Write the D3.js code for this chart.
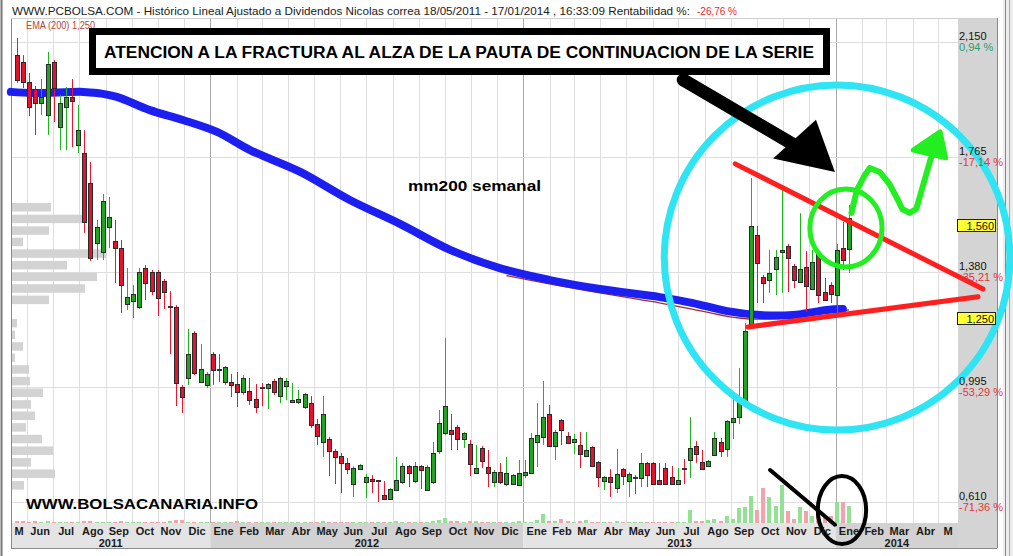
<!DOCTYPE html>
<html><head><meta charset="utf-8">
<script src="https://cdn.jsdelivr.net/npm/d3@7"></script>
<style>body{margin:0;background:#fff;} svg{display:block;font-family:Arial,"Liberation Sans",sans-serif;}</style>
</head><body><svg id="c" width="1013" height="556"></svg>
<script>
// ---------- DATA ----------
const opens = [2.106,2.083,2.016,1.993,1.946,1.906,2.083,1.865,1.932,1.966,
1.805,1.778,1.678,1.477,1.447,1.531,1.484,1.460,1.273,1.283,
1.263,1.393,1.380,1.380,1.350,1.263,1.263,0.995,1.025,1.176,
1.012,1.002,1.105,1.052,1.012,1.012,1.005,0.978,0.982,0.955,
0.992,0.992,1.015,0.965,0.998,0.945,0.945,0.928,0.941,0.871,
0.811,0.821,0.781,0.764,0.741,0.670,0.720,0.677,0.687,0.680,
0.633,0.620,0.650,0.677,0.730,0.680,0.730,0.650,0.677,0.781,
0.841,0.851,0.861,0.821,0.804,0.707,0.791,0.727,0.677,0.710,
0.670,0.670,0.667,0.700,0.707,0.811,0.828,0.905,0.797,0.884,
0.831,0.811,0.801,0.764,0.794,0.744,0.680,0.694,0.657,0.720,
0.680,0.690,0.690,0.741,0.741,0.684,0.724,0.694,0.670,0.720,
0.751,0.797,0.744,0.730,0.767,0.811,0.787,0.878,0.894,0.945,
1.206,1.504,1.363,1.353,1.390,1.447,1.467,1.400,1.346,1.397,
1.323,1.440,1.313,1.336,1.303,1.460,1.457];
const highs = [2.163,2.106,2.046,2.003,2.026,2.117,2.090,1.973,1.999,2.026,
1.939,1.855,1.748,1.554,1.641,1.631,1.554,1.487,1.393,1.336,
1.393,1.403,1.387,1.387,1.357,1.316,1.269,1.002,1.189,1.182,
1.139,1.045,1.112,1.105,1.065,1.039,1.045,1.035,1.025,1.005,
1.008,1.008,1.022,1.029,1.025,1.008,0.985,0.975,0.965,0.888,
0.965,0.828,0.787,0.774,0.757,0.730,0.737,0.704,0.700,0.684,
0.680,0.657,0.761,0.741,0.734,0.744,0.734,0.734,0.811,0.918,
1.159,0.905,0.868,0.844,0.818,0.801,0.797,0.784,0.717,0.741,
0.761,0.704,0.751,0.751,0.841,0.941,1.015,0.935,0.851,0.888,
0.844,0.838,0.844,0.844,0.797,0.747,0.697,0.720,0.787,0.724,
0.710,0.700,0.774,0.744,0.744,0.741,0.741,0.730,0.724,0.754,
0.894,0.814,0.784,0.751,0.844,0.824,0.884,0.955,1.059,1.209,
1.695,1.534,1.370,1.454,1.454,1.654,1.474,1.407,1.577,1.450,
1.454,1.447,1.360,1.346,1.474,1.547,1.604];
const lows = [2.013,1.996,1.902,1.839,1.906,1.839,1.882,1.788,1.788,1.798,
1.778,1.511,1.417,1.420,1.420,1.460,1.343,1.243,1.253,1.226,
1.256,1.286,1.303,1.233,1.256,1.105,0.931,0.908,1.002,1.035,
1.008,0.992,1.002,1.012,1.002,0.961,0.928,0.968,0.935,0.908,
0.931,0.921,0.968,0.941,0.951,0.941,0.938,0.921,0.858,0.801,
0.761,0.697,0.670,0.640,0.704,0.627,0.717,0.623,0.640,0.610,
0.617,0.617,0.647,0.670,0.660,0.673,0.653,0.647,0.670,0.771,
0.834,0.784,0.784,0.791,0.697,0.704,0.724,0.660,0.660,0.670,
0.663,0.667,0.663,0.690,0.704,0.727,0.801,0.794,0.751,0.801,
0.804,0.771,0.724,0.761,0.727,0.660,0.650,0.627,0.640,0.667,
0.627,0.637,0.660,0.660,0.667,0.667,0.667,0.667,0.667,0.670,
0.690,0.741,0.717,0.727,0.764,0.761,0.761,0.821,0.871,0.938,
1.199,1.276,1.276,1.310,1.303,1.310,1.313,1.326,1.343,1.246,
1.320,1.276,1.283,1.276,1.229,1.387,1.377];
const closes = [2.023,2.016,1.932,1.946,1.966,2.076,1.996,1.946,1.966,1.952,
1.855,1.547,1.427,1.531,1.618,1.564,1.460,1.336,1.296,1.306,
1.380,1.343,1.316,1.293,1.313,1.263,1.008,0.961,1.105,1.042,
1.055,1.039,1.052,1.052,1.062,1.002,0.978,1.025,0.951,0.928,
0.992,1.005,0.978,1.025,1.015,0.951,0.955,0.972,0.868,0.831,
0.905,0.781,0.761,0.741,0.720,0.724,0.734,0.694,0.680,0.680,
0.620,0.653,0.684,0.730,0.707,0.730,0.717,0.727,0.774,0.874,
0.931,0.838,0.821,0.841,0.737,0.724,0.747,0.707,0.710,0.677,
0.707,0.700,0.707,0.710,0.824,0.834,0.894,0.797,0.844,0.851,
0.807,0.821,0.771,0.784,0.730,0.694,0.694,0.677,0.704,0.697,
0.704,0.690,0.741,0.700,0.670,0.670,0.670,0.670,0.684,0.720,
0.791,0.771,0.720,0.747,0.824,0.781,0.881,0.891,0.951,1.182,
1.534,1.410,1.343,1.377,1.430,1.454,1.427,1.353,1.390,1.333,
1.413,1.303,1.286,1.306,1.454,1.420,1.561];
const volumes = [2,2,1,2,1,2,1,1,1,1, 1,2,2,1,1,1,1,2,1,1, 1,1,1,1,1,2,3,3,1,1,
1,1,1,1,1,1,2,1,1,1, 1,1,1,1,1,1,1,1,1,1, 2,1,1,1,1,1,1,1,1,1,
1,1,2,1,1,1,1,1,2,3, 5,2,2,1,2,2,1,1,1,1, 1,1,2,1,1,3,9,2,2,4,
2,1,2,3,1,1,1,1,2,1, 1,1,1,1,1,1,1,1,1,1, 13,2,2,3,4,2,7,4,15,16,
27,13,35,26,17,38,12,4,16,12, 7,10,8,7,21,21,17];
// EMA(200) thin line, read at a few bars
const emaIdx = [80,84,89,95,102,105,112,118,121,126,131,136];
const emaVal = [1.368,1.352,1.333,1.311,1.287,1.277,1.249,1.226,1.222,1.226,1.240,1.253];
// left volume-by-price profile
const profTop = [1.611,1.572,1.533,1.495,1.456,1.417,1.378,1.339,1.301,1.262,1.223,1.184,1.145,1.107,1.068,1.029,0.990,0.951,0.913,0.874,0.835,0.796,0.757,0.719,0.680];
const profVol = [39,72,37,11,94,55,85,73,37,0,5,3,11,3,17,18,31,19,23,14,30,41,19,43,12];
// price axis
const tickVals = [2.150,1.765,1.380,0.995,0.610];
const tickLabels = ["2,150","1,765","1,380","0,995","0,610"];
const tickPct = ["0,94 %","-17,14 %","-35,21 %","-53,29 %","-71,36 %"];
const markVals = [1.560,1.250];
const markLabels = ["1,560","1,250"];
const monthNames = ["Ene","Feb","Mar","Abr","May","Jun","Jul","Ago","Sep","Oct","Nov","Dic"];
// hand-drawn annotations (bar index, price)
const blueIdx = [-1,2.6,10.8,13.1,16.3,21.7,27.1,32.7,38.1,46.3,54.4,62.6,70.8,78.9,87.1,95.3,105.1,110.5,116.1,121.4,126.8,132.4,135];
const bluePx  = [1.983,1.979,1.983,1.979,1.966,1.922,1.889,1.849,1.788,1.715,1.621,1.541,1.454,1.393,1.353,1.323,1.296,1.276,1.249,1.236,1.236,1.253,1.256];
const upperLine = [[117.4,1.742],[157.9,1.323]];
const lowerLine = [[119.5,1.196],[157.1,1.297]];
const cyanBox = [[105.8,2.006],[162.3,0.851]];
const greenBox = [[129.6,1.658],[141.4,1.397]];
const blackBox = [[130.9,0.697],[138.8,0.469]];
const blackStroke = [[123.1,0.717],[133.7,0.534]];
const arrowShaft = [[108.9,2.023],[127.5,1.800]];
const arrowHead = [[123.6,1.760],[133.7,1.715],[130.6,1.890]];
const squiggle = [[136.4,1.578],[137.3,1.655],[138.6,1.705],[139.4,1.728],[141.0,1.715],[142.6,1.675],[143.9,1.625],[144.7,1.591],[145.9,1.578],[147.0,1.591],[147.7,1.641],[148.5,1.698],[149.3,1.755],[150.0,1.795],[150.5,1.826]];
const squiggleHead = [[146.5,1.788],[150.9,1.849],[151.8,1.762]];

// ---------- LAYOUT ----------
const svg = d3.select("#c");
const L=11, R=958, T=18, B=523, AXB=548, PR=997;
const n = opens.length;
const x = d3.scaleLinear().domain([0,n-1]).range([17,849]);
const xt = d3.scaleTime().domain([new Date(2011,4,13), new Date(2014,4,24)]).range([L,R]);
const y = d3.scaleLinear().domain([0.610,2.150]).range([502,42]);
const yv = d3.scaleLinear().domain([0,40]).range([B,B-40]);
const xp = d3.scaleLinear().domain([0,100]).range([L,L+100]);

svg.append("rect").attr("width",1013).attr("height",556).attr("fill","#fff");
// outer frame
svg.append("line").attr("x1",1.5).attr("x2",1.5).attr("y1",0).attr("y2",556).attr("stroke","#777").attr("stroke-width",2);
svg.append("rect").attr("x",1003).attr("y",0).attr("width",10).attr("height",556).attr("fill","#ececec");
svg.append("line").attr("x1",1005.5).attr("x2",1005.5).attr("y1",0).attr("y2",556).attr("stroke","#888");
svg.append("line").attr("x1",1009.5).attr("x2",1009.5).attr("y1",0).attr("y2",556).attr("stroke","#aaa");

// axis band with alternating years
const t0 = xt.domain()[0], t1 = xt.domain()[1];
const years = d3.timeYear.range(d3.timeYear.floor(t0), t1);
years.forEach((yr,k)=>{
  const a = Math.max(xt(yr),L), b = Math.min(xt(d3.timeYear.offset(yr,1)),R);
  svg.append("rect").attr("x",a).attr("y",B).attr("width",b-a).attr("height",AXB-B)
     .attr("fill", k%2===0 ? "#e4e4e4" : "#d2d2d2");
});
// right axis panel
svg.append("rect").attr("x",R).attr("y",T).attr("width",PR-R).attr("height",AXB-T).attr("fill","#d4d4d4");

// gridlines
const months = d3.timeMonth.range(d3.timeMonth.ceil(t0), t1);
svg.append("g").selectAll("line").data(months).join("line")
  .attr("x1",d=>Math.round(xt(d))+0.5).attr("x2",d=>Math.round(xt(d))+0.5)
  .attr("y1",T).attr("y2",B)
  .attr("stroke",d=>d.getMonth()===0?"#a9a9a9":"#dedede").attr("stroke-width",1);
svg.append("g").selectAll("line").data(tickVals).join("line")
  .attr("x1",L).attr("x2",R).attr("y1",d=>Math.round(y(d))+0.5).attr("y2",d=>Math.round(y(d))+0.5)
  .attr("stroke","#dedede");

// frame lines
svg.append("line").attr("x1",L+0.5).attr("x2",L+0.5).attr("y1",T).attr("y2",AXB).attr("stroke","#8a8a8a");
svg.append("line").attr("x1",L).attr("x2",PR).attr("y1",AXB+0.5).attr("y2",AXB+0.5).attr("stroke","#8a8a8a");
svg.append("line").attr("x1",PR+0.5).attr("x2",PR+0.5).attr("y1",T).attr("y2",AXB).attr("stroke","#8a8a8a");
svg.append("line").attr("x1",L).attr("x2",PR).attr("y1",T+0.5).attr("y2",T+0.5).attr("stroke","#cfcfcf");

// volume profile
const bandH = 0.0285;
svg.append("g").selectAll("rect").data(profTop).join("rect")
  .attr("x",L+1).attr("y",d=>y(d)).attr("height",d=>y(d-bandH)-y(d))
  .attr("width",(d,i)=>Math.max(0,xp(profVol[i])-L)).attr("fill","#d3d3d3");

// volume bars
const up = i => closes[i] >= opens[i];
svg.append("g").selectAll("rect").data(volumes).join("rect")
  .attr("x",(d,i)=>Math.round(x(i))-2).attr("width",4)
  .attr("y",d=>yv(d)).attr("height",d=>B-yv(d))
  .attr("fill",(d,i)=>up(i)?"#93e293":"#f4a3ad");

// EMA thin line
svg.append("path").datum(emaIdx.map((d,i)=>[d,emaVal[i]]))
  .attr("d",d3.line().x(d=>x(d[0])).y(d=>y(d[1])).curve(d3.curveMonotoneX))
  .attr("fill","none").attr("stroke","#a52a2a").attr("stroke-width",1.3);

// blue hand-drawn EMA
svg.append("path").datum(blueIdx.map((d,i)=>[d,bluePx[i]]))
  .attr("d",d3.line().x(d=>x(d[0])).y(d=>y(d[1])).curve(d3.curveCatmullRom))
  .attr("fill","none").attr("stroke","#1c1ff0").attr("stroke-width",8).attr("stroke-linecap","round");

// candles
const cg = svg.append("g");
d3.range(n).forEach(i=>{
  const cx = Math.round(x(i));
  const o=opens[i], c=closes[i];
  const doji = Math.abs(o-c) < 0.001;
  const col = doji ? "#e8192f" : (c>o ? "#1fb31f" : "#e8192f");
  cg.append("line").attr("x1",cx+0.5).attr("x2",cx+0.5).attr("y1",y(highs[i])).attr("y2",y(lows[i]))
    .attr("stroke",col).attr("stroke-width",1);
  if (doji) {
    cg.append("rect").attr("x",cx-2).attr("y",Math.round(y(o))-1).attr("width",5).attr("height",2).attr("fill","#333");
  } else {
    const yt = Math.round(y(Math.max(o,c))), yb = Math.round(y(Math.min(o,c)));
    cg.append("rect").attr("x",cx-1.5).attr("y",yt+0.5).attr("width",4).attr("height",Math.max(1,yb-yt))
      .attr("fill", c>o ? "#1fa51f" : "#e4122c").attr("stroke","#2a2a2a").attr("stroke-width",1);
  }
});

// ---------- ANNOTATIONS ----------
const P = d => [x(d[0]), y(d[1])];
function ell(box, color, w){
  const a=P(box[0]), b=P(box[1]);
  svg.append("ellipse").attr("cx",(a[0]+b[0])/2).attr("cy",(a[1]+b[1])/2)
    .attr("rx",Math.abs(b[0]-a[0])/2).attr("ry",Math.abs(b[1]-a[1])/2)
    .attr("fill","none").attr("stroke",color).attr("stroke-width",w);
}
function seg(pts,color,w){
  svg.append("path").attr("d",d3.line()(pts.map(P))).attr("fill","none")
    .attr("stroke",color).attr("stroke-width",w).attr("stroke-linecap","round").attr("stroke-linejoin","round");
}
seg(upperLine,"#ff1f1f",5);
seg(lowerLine,"#ff1f1f",5);
ell(cyanBox,"#2fe4f3",7);
ell(greenBox,"#22ee22",5);
seg(squiggle,"#22ee22",6);
svg.append("path").attr("d",d3.line()(squiggleHead.map(P))+"Z").attr("fill","#22ee22")
  .attr("stroke","#22ee22").attr("stroke-width",5).attr("stroke-linejoin","round");
seg(arrowShaft,"#000",13);
svg.append("path").attr("d",d3.line()(arrowHead.map(P))+"Z").attr("fill","#000");
ell(blackBox,"#000",4);
seg(blackStroke,"#000",4);

// ---------- TEXT ----------
svg.append("text").attr("x",12).attr("y",15).attr("font-size",11).attr("fill","#1a1a1a")
  .attr("textLength",678).attr("lengthAdjust","spacingAndGlyphs")
  .text("WWW.PCBOLSA.COM - Histórico Lineal  Ajustado a Dividendos Nicolas correa 18/05/2011 - 17/01/2014 , 16:33:09 Rentabilidad %:");
svg.append("text").attr("x",697).attr("y",15).attr("font-size",11).attr("fill","#e8262e")
  .attr("textLength",40).attr("lengthAdjust","spacingAndGlyphs").text("-26,76 %");
svg.append("text").attr("x",26).attr("y",29).attr("font-size",11).attr("fill","#b4483a")
  .attr("textLength",69).attr("lengthAdjust","spacingAndGlyphs").text("EMA (200) 1,250");

// boxed comment
svg.append("rect").attr("x",92.5).attr("y",31.5).attr("width",734).attr("height",40)
  .attr("fill","#fff").attr("stroke","#000").attr("stroke-width",7);
svg.append("text").attr("x",104).attr("y",58).attr("font-size",16).attr("font-weight","bold").attr("fill","#000")
  .attr("textLength",710).attr("lengthAdjust","spacingAndGlyphs")
  .text("ATENCION A LA FRACTURA AL ALZA DE LA PAUTA DE CONTINUACION DE LA SERIE");
svg.append("text").attr("x",408).attr("y",191).attr("font-size",14).attr("font-weight","bold").attr("fill","#000")
  .attr("textLength",133).attr("lengthAdjust","spacingAndGlyphs").text("mm200 semanal");
svg.append("text").attr("x",26).attr("y",509).attr("font-size",15).attr("font-weight","bold").attr("fill","#000")
  .attr("textLength",232).attr("lengthAdjust","spacingAndGlyphs").text("WWW.BOLSACANARIA.INFO");

// price labels
tickVals.forEach((v,i)=>{
  svg.append("text").attr("x",959).attr("y",y(v)-2).attr("font-size",11).attr("fill","#111").text(tickLabels[i]);
  svg.append("text").attr("x",959).attr("y",y(v)+9).attr("font-size",11)
    .attr("fill",tickPct[i].startsWith("-")?"#e2363c":"#2a9d6e").text(tickPct[i]);
});
markVals.forEach((v,i)=>{
  const yy = Math.round(y(v));
  svg.append("rect").attr("x",957.5).attr("y",yy+1.5).attr("width",38).attr("height",12)
    .attr("fill","#ffff33").attr("stroke","#222");
  svg.append("text").attr("x",994).attr("y",yy+11.5).attr("text-anchor","end").attr("font-size",11).attr("fill","#111").text(markLabels[i]);
});

// month labels
const allMonths = d3.timeMonth.range(d3.timeMonth.floor(t0), t1);
allMonths.forEach(m=>{
  const a = Math.max(xt(m),L), b = Math.min(xt(d3.timeMonth.offset(m,1)),R);
  const w = b-a; const name = monthNames[m.getMonth()];
  svg.append("text").attr("x",(a+b)/2).attr("y",535).attr("text-anchor","middle")
    .attr("font-size",11).attr("font-weight","bold").attr("fill","#1a1a1a")
    .text(w < 22 ? name[0] : name);
});
years.forEach(yr=>{
  const a = Math.max(xt(yr),L), b = Math.min(xt(d3.timeYear.offset(yr,1)),R);
  svg.append("text").attr("x",(a+b)/2).attr("y",547).attr("text-anchor","middle")
    .attr("font-size",11).attr("font-weight","bold").attr("fill","#1a1a1a").text(yr.getFullYear());
});
</script></body></html>
